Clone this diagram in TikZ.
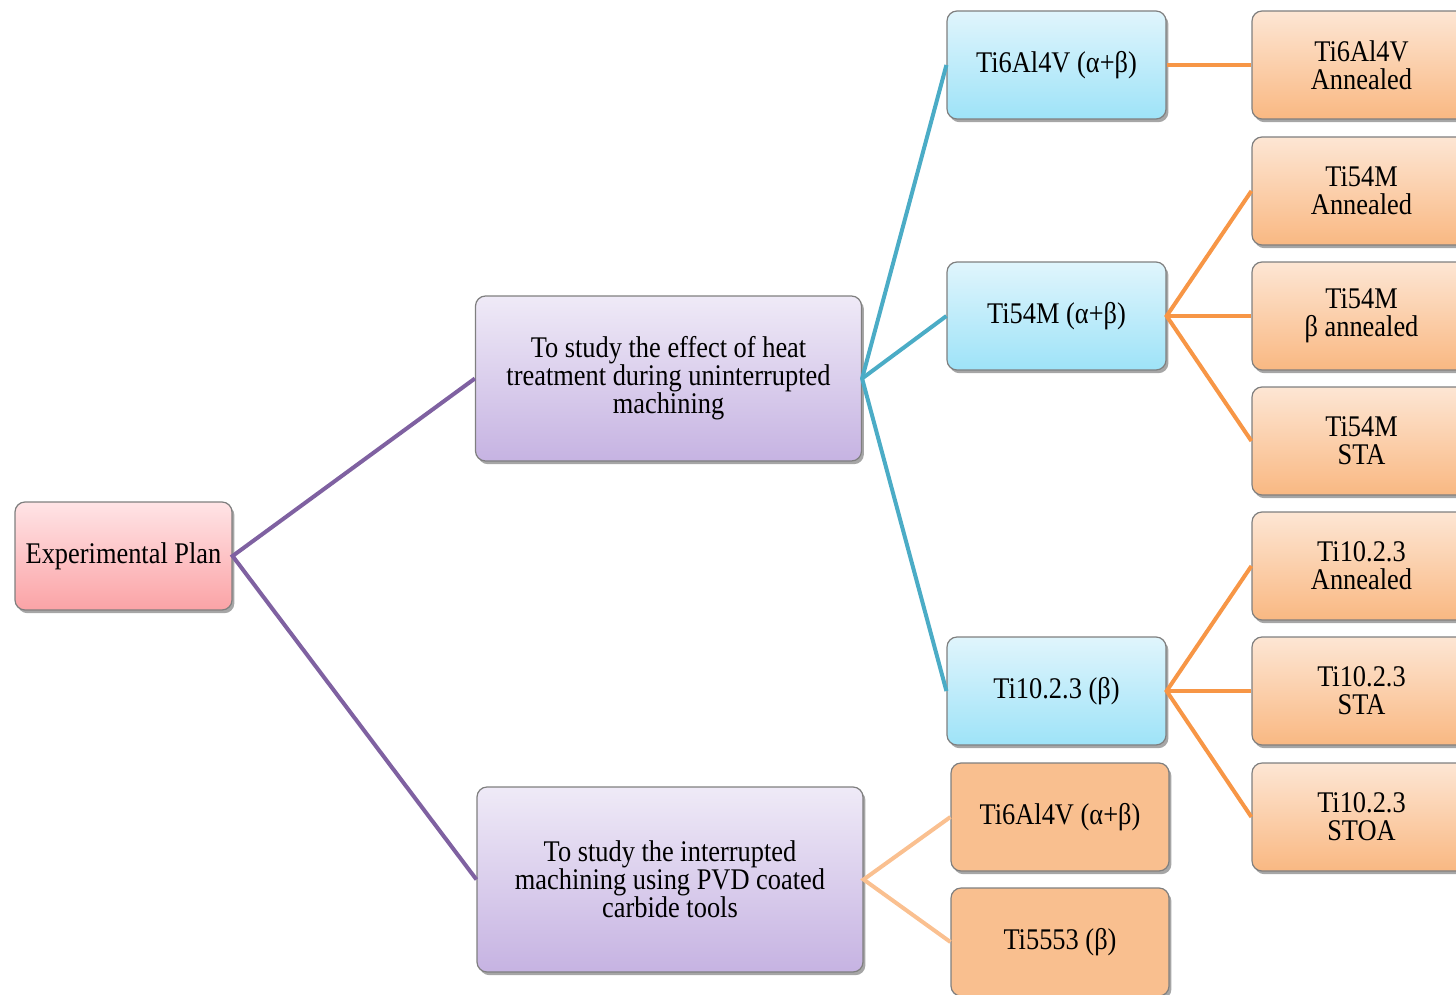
\documentclass[tikz,border=0pt]{standalone}
\usepackage{fontspec}
\setmainfont{Liberation Serif}[FakeStretch=0.88]
\usetikzlibrary{shadows}
\definecolor{boxline}{HTML}{7F7F7F}
\definecolor{redtop}{HTML}{FFE4E6}
\definecolor{redbot}{HTML}{FBA3A6}
\definecolor{purtop}{HTML}{EFEAF7}
\definecolor{purbot}{HTML}{C6B3E2}
\definecolor{blutop}{HTML}{E0F5FC}
\definecolor{blubot}{HTML}{9EE3F8}
\definecolor{orgtop}{HTML}{FDE6D4}
\definecolor{orgbot}{HTML}{F9B882}
\definecolor{orgflat}{HTML}{F9BF8F}
\definecolor{cpur}{HTML}{7F61A1}
\definecolor{cteal}{HTML}{4BACC6}
\definecolor{corg}{HTML}{F79646}
\definecolor{clor}{HTML}{FAC090}
\begin{document}
\begin{tikzpicture}[x=0.5pt,y=-0.5pt,
  box/.style={rounded corners=5pt, draw=boxline, line width=0.6pt, align=center,
    font=\fontsize{15}{14}\selectfont, inner sep=0pt,
    drop shadow={shadow xshift=1.2pt, shadow yshift=-1.6pt, opacity=0.35, fill=black}},
  rootbox/.style={box, top color=redtop, bottom color=redbot, minimum width=108.5pt, minimum height=54pt},
  purbox/.style={box, top color=purtop, bottom color=purbot, minimum width=193pt},
  blubox/.style={box, top color=blutop, bottom color=blubot, minimum width=109.5pt, minimum height=54pt},
  orgbox/.style={box, top color=orgtop, bottom color=orgbot, minimum width=109.5pt, minimum height=54pt},
  flatbox/.style={box, fill=orgflat, minimum width=109pt, minimum height=54pt},
  conn/.style={line width=2pt}
]
\useasboundingbox (0,0) rectangle (1456,995);
\clip (0,0) rectangle (1456,995);

\node[rootbox] (root) at (123.5,556) {Experimental Plan};
\node[purbox, minimum height=82.5pt] (A) at (668.5,378.5) {To study the effect of  heat\\treatment during uninterrupted\\machining};
\node[purbox, minimum height=92.5pt] (B) at (670,879.5) {To study the interrupted\\machining using PVD coated\\carbide tools};

\node[blubox] (t1) at (1056.5,65) {Ti6Al4V (α+β)};
\node[blubox] (t2) at (1056.5,316) {Ti54M (α+β)};
\node[blubox] (t3) at (1056.5,691) {Ti10.2.3 (β)};

\node[orgbox] (o1) at (1361.5,65) {Ti6Al4V\\Annealed};
\node[orgbox] (o2) at (1361.5,191) {Ti54M\\Annealed};
\node[orgbox] (o3) at (1361.5,316) {Ti54M\\β annealed};
\node[orgbox] (o4) at (1361.5,441) {Ti54M\\STA};
\node[orgbox] (o5) at (1361.5,566) {Ti10.2.3\\Annealed};
\node[orgbox] (o6) at (1361.5,691) {Ti10.2.3\\STA};
\node[orgbox] (o7) at (1361.5,817) {Ti10.2.3\\STOA};

\node[flatbox] (p1) at (1060,817) {Ti6Al4V (α+β)};
\node[flatbox] (p2) at (1060,942) {Ti5553 (β)};

\draw[conn, cpur] (A.west) -- (root.east) -- (B.west);
\draw[conn, cteal] (t1.west) -- (A.east) -- (t3.west);
\draw[conn, cteal] (A.east) -- (t2.west);
\draw[conn, corg] (t1.east) -- (o1.west);
\draw[conn, corg] (o2.west) -- (t2.east) -- (o4.west);
\draw[conn, corg] (t2.east) -- (o3.west);
\draw[conn, corg] (o5.west) -- (t3.east) -- (o7.west);
\draw[conn, corg] (t3.east) -- (o6.west);
\draw[conn, clor] (p1.west) -- (B.east) -- (p2.west);
\end{tikzpicture}
\end{document}
